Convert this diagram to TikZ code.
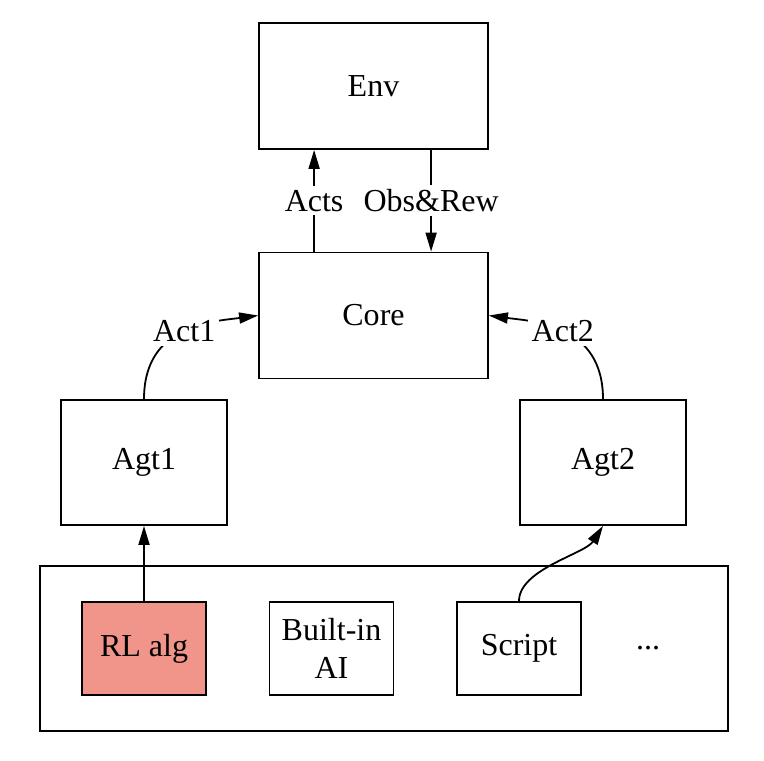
\documentclass[tikz,border=0pt]{standalone}
\usepackage{fontspec}
\setmainfont{Liberation Serif}
\usetikzlibrary{arrows.meta}
\definecolor{rlfill}{HTML}{F1958A}

\begin{document}
\begin{tikzpicture}[x=0.5pt, y=-0.5pt, font=\fontsize{16}{19}\selectfont,
  box/.style={draw, line width=0.9pt, inner sep=0pt, align=center},
  bigbox/.style={box, minimum width=114.5pt, minimum height=63pt},
  agtbox/.style={box, minimum width=83pt, minimum height=62.5pt},
  algbox/.style={box, minimum width=62pt, minimum height=46.5pt},
  edge/.style={line width=0.9pt, -{Triangle[length=9.5pt, width=5.5pt]}},
  lbl/.style={fill=white, inner sep=2pt}]
\useasboundingbox (0,0) rectangle (764,760);
% boxes
\node[bigbox] (env) at (373.5,86) {Env};
\node[bigbox] (core) at (373.5,315.5) {Core};
\node[agtbox] (agt1) at (144,462.5) {Agt1};
\node[agtbox] (agt2) at (603,462.5) {Agt2};
\node[box, minimum width=344pt, minimum height=82.5pt] (pool) at (384,648.5) {};
\node[algbox, fill=rlfill] (rlalg) at (144,648.5) {RL alg};
\node[algbox] (builtin) at (331.5,648.5) {Built-in\\AI};
\node[algbox] (script) at (519,648.5) {Script};
\node (more) at (648,648.5) {...};
% edges
\draw[edge] ([xshift=28pt]core.north west) -- node[lbl] {Acts} ([xshift=28pt]env.south west);
\draw[edge] ([xshift=86.5pt]env.south west) -- node[lbl] {Obs\&Rew} ([xshift=86.5pt]core.north west);
\draw[edge] (agt1.north) .. controls +(0,-75) and +(-45,6) .. node[lbl] {Act1} (core.west);
\draw[edge] (agt2.north) .. controls +(0,-75) and +(45,6) .. node[lbl] {Act2} (core.east);
\draw[edge] (rlalg.north) -- (agt1.south);
\draw[edge] (script.north) .. controls +(0,-32) and +(-18,28) .. (agt2.south);
\end{tikzpicture}
\end{document}
